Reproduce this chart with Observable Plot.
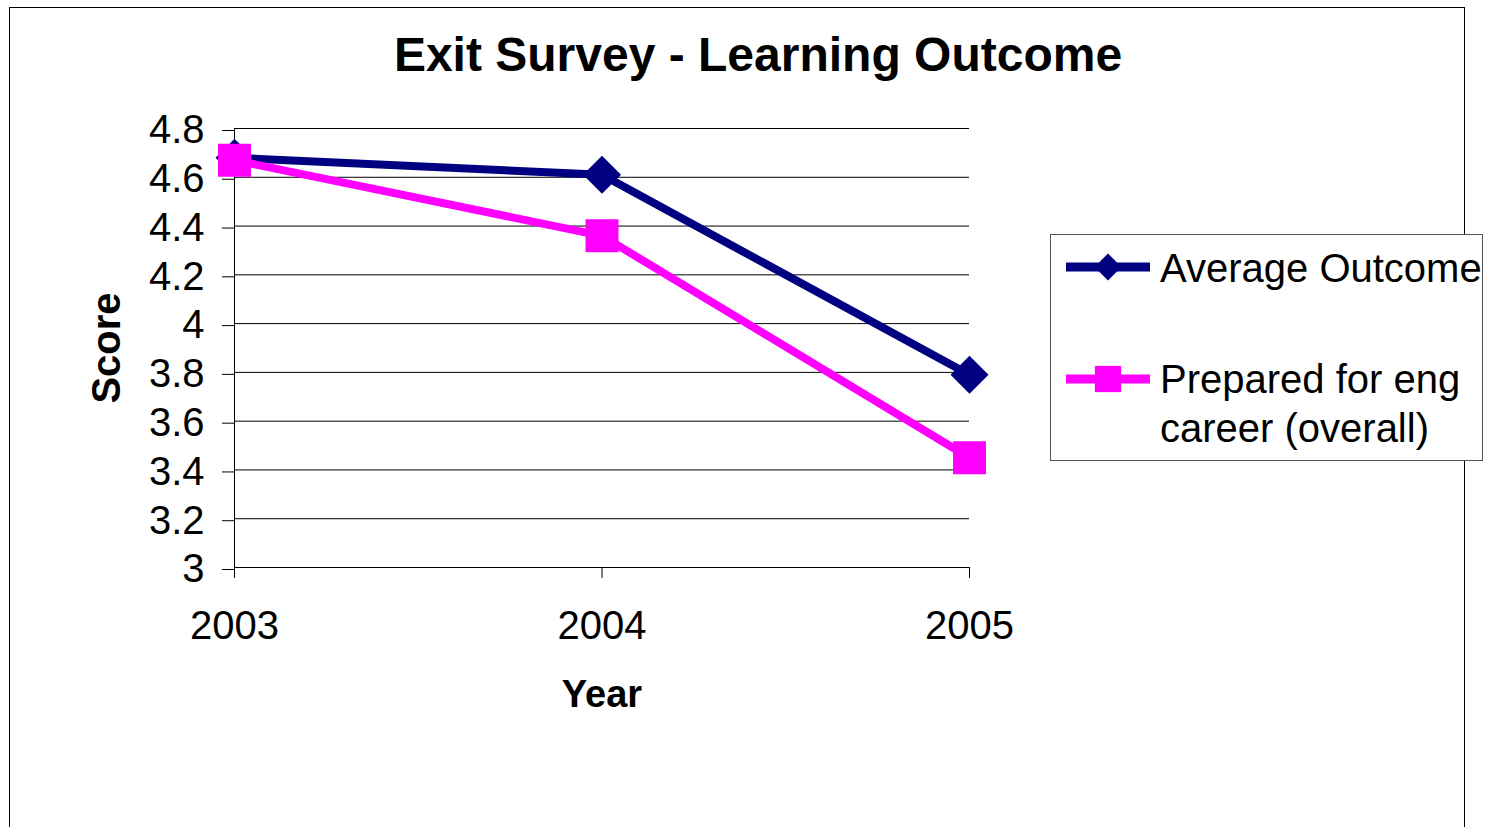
<!DOCTYPE html>
<html>
<head>
<meta charset="utf-8">
<script src="https://cdn.jsdelivr.net/npm/d3@7"></script>
<script src="https://cdn.jsdelivr.net/npm/@observablehq/plot@0.6"></script>
<style>
  html, body { margin: 0; padding: 0; background: #fff; overflow: hidden; }
  #chart svg { display: block; }
</style>
</head>
<body>
<div id="chart"></div>
<script>
// Exit survey scores by graduating year
const years = [2003, 2004, 2005];
const averageOutcome = [4.68, 4.61, 3.79];
const preparedCareer = [4.67, 4.36, 3.45];

const seriesNames = ["Average Outcome", "Prepared for eng career (overall)"];
const legendLines = [["Average Outcome"], ["Prepared for eng", "career (overall)"]];
const seriesColors = ["#000080", "#FF00FF"];
const yTicks = [3, 3.2, 3.4, 3.6, 3.8, 4, 4.2, 4.4, 4.6, 4.8];

const titleText = "Exit Survey - Learning Outcome";
const xLabel = "Year";
const yLabel = "Score";

const avgRows = years.map((year, i) => ({year, score: averageOutcome[i]}));
const prepRows = years.map((year, i) => ({year, score: preparedCareer[i]}));

const font = "'Liberation Sans', Arial, Helvetica, sans-serif";

const chart = Plot.plot({
  width: 1493,
  height: 827,
  marginLeft: 234,
  marginRight: 524,
  marginTop: 128,
  marginBottom: 260,
  style: {fontFamily: font, fontSize: "40px", color: "#000", background: "#fff"},
  x: {type: "linear", domain: [years[0], years[years.length - 1]], label: null},
  y: {domain: [yTicks[0], yTicks[yTicks.length - 1]], label: null},
  marks: [
    Plot.gridY(yTicks, {stroke: "#000", strokeOpacity: 1}),
    Plot.ruleX([years[0]], {stroke: "#000"}),
    Plot.axisY(yTicks, {
      tickSize: 12, tickPadding: 18, tickFormat: d => String(d), label: null,
      fontSize: 40, fontFamily: font, stroke: "#000", dy: 2
    }),
    Plot.axisX(years, {
      tickSize: 11, tickPadding: 32, tickFormat: d => String(d), label: null,
      fontSize: 40, fontFamily: font, stroke: "#000"
    }),
    Plot.line(avgRows, {x: "year", y: "score", stroke: seriesColors[0], strokeWidth: 8, strokeLinejoin: "round"}),
    Plot.dot(avgRows, {x: "year", y: "score", symbol: "diamond2", r: 17.1, fill: seriesColors[0], stroke: "none"}),
    Plot.line(prepRows, {x: "year", y: "score", stroke: seriesColors[1], strokeWidth: 8, strokeLinejoin: "round"}),
    Plot.dot(prepRows, {x: "year", y: "score", symbol: "square", r: 18.6, fill: seriesColors[1], stroke: "none"}),
    Plot.text([yLabel], {
      text: d => d, frameAnchor: "left", rotate: -90, dx: -127,
      textAnchor: "middle", lineAnchor: "middle",
      fontWeight: "bold", fontSize: 40, fontFamily: font
    }),
    Plot.text([xLabel], {
      text: d => d, frameAnchor: "bottom", dy: 127.5,
      textAnchor: "middle", lineAnchor: "middle",
      fontWeight: "bold", fontSize: 38, fontFamily: font
    }),
    Plot.text([titleText], {
      text: d => d, frameAnchor: "top-left", dx: 523.5, dy: -73,
      textAnchor: "middle", lineAnchor: "middle",
      fontWeight: "bold", fontSize: 48, fontFamily: font
    })
  ]
});

document.getElementById("chart").append(chart);

const svg = d3.select(chart);

// outer chart-area border, behind everything
svg.insert("rect", ":first-child")
  .attr("x", 9.5).attr("y", 7.5)
  .attr("width", 1455).attr("height", 900)
  .attr("fill", "#fff").attr("stroke", "#000").attr("stroke-width", 1);

// legend box
const legend = svg.append("g")
  .attr("font-family", font)
  .attr("font-size", 40)
  .attr("text-anchor", "start");
legend.append("rect")
  .attr("x", 1050.5).attr("y", 234.5)
  .attr("width", 432).attr("height", 226)
  .attr("fill", "#fff").attr("stroke", "#555").attr("stroke-width", 1);

const legendSymbols = [
  d3.symbol(d3.symbolDiamond2, 465)(),
  d3.symbol(d3.symbolSquare, 690)()
];
const entryY = [267, 379];
const entryBaselines = [[281.7], [393.3, 441.7]];

seriesNames.forEach((name, i) => {
  const g = legend.append("g").attr("aria-label", name);
  g.append("line")
    .attr("x1", 1066).attr("x2", 1150)
    .attr("y1", entryY[i]).attr("y2", entryY[i])
    .attr("stroke", seriesColors[i]).attr("stroke-width", 9);
  g.append("path")
    .attr("d", legendSymbols[i])
    .attr("transform", `translate(1108,${entryY[i]})`)
    .attr("fill", seriesColors[i]);
  legendLines[i].forEach((line, j) => {
    g.append("text")
      .attr("x", 1160).attr("y", entryBaselines[i][j])
      .attr("text-anchor", "start")
      .attr("fill", "#000")
      .text(line);
  });
});
</script>
</body>
</html>
